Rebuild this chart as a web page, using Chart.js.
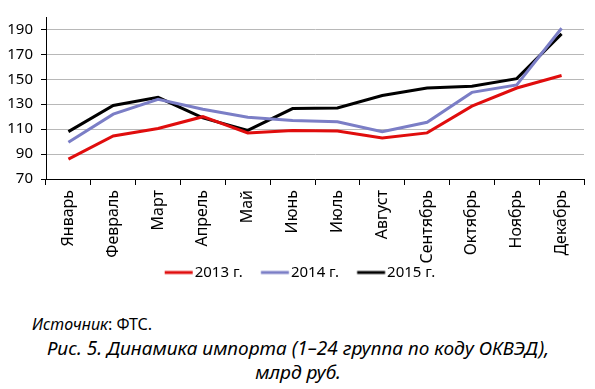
<!DOCTYPE html>
<html>
<head>
<meta charset="utf-8">
<script src="https://cdn.jsdelivr.net/npm/chart.js@4/dist/chart.umd.min.js"></script>
<style>
    body { margin: 0; background: #fff; width: 595px; height: 389px; overflow: hidden; position: relative; font-family: "Noto Sans", sans-serif; }
    #wrap { position: absolute; left: 0; top: 0; width: 595px; height: 290px; }
    .cap { position: absolute; color: #000; white-space: nowrap; }
    #src { left: 32px; top: 313px; font-size: 16px; }
    #src i { font-style: italic; }
    #title1 { left: 0; width: 596px; text-align: center; top: 335px; font-size: 19px; font-style: italic; }
    #title2 { left: 0; width: 596px; text-align: center; top: 359px; font-size: 19px; font-style: italic; }
</style>
</head>
<body>
<div id="wrap"><canvas id="importChart" width="595" height="290"></canvas></div>
<div class="cap" id="src"><i>Источник</i>: ФТС.</div>
<div class="cap" id="title1">Рис. 5. Динамика импорта (1–24 группа по коду ОКВЭД),</div>
<div class="cap" id="title2">млрд руб.</div>
<script>
const months = ["Январь","Февраль","Март","Апрель","Май","Июнь","Июль","Август","Сентябрь","Октябрь","Ноябрь","Декабрь"];
const seriesNames = ["2013 г.", "2014 г.", "2015 г."];
const values2013 = [86, 104.5, 110.5, 120, 107, 109, 108.5, 103, 107, 128.5, 143, 153];
const values2014 = [99.5, 122, 134, 126, 119.5, 117, 116, 108, 115.5, 139.5, 145.5, 191];
const values2015 = [108, 129, 135.5, 119, 109, 126.5, 127, 137, 143, 144.5, 150.5, 186.5];
const yTicks = [70, 90, 110, 130, 150, 170, 190];
const colors = ["#e00d0d", "#7b7ec6", "#000000"];

// legend marker: a wide box with the line pushed to its right end,
// so the gap between items lives in the box and the line sits close to the text
function legendLine(color) {
    const c = document.createElement("canvas");
    c.width = 60;
    c.height = 6;
    const g = c.getContext("2d");
    g.strokeStyle = color;
    g.lineWidth = 3;
    g.beginPath();
    g.moveTo(26.75, 3);
    g.lineTo(54.75, 3);
    g.stroke();
    return c;
}

const ctx = document.getElementById("importChart");

new Chart(ctx, {
    type: "line",
    data: {
        labels: months,
        datasets: [values2013, values2014, values2015].map((vals, i) => ({
            label: seriesNames[i],
            data: vals,
            borderColor: colors[i],
            backgroundColor: colors[i],
            pointStyle: legendLine(colors[i]),
            borderWidth: 3,
            pointRadius: 0,
            tension: 0,
            fill: false
        }))
    },
    options: {
        responsive: false,
        animation: false,
        layout: { padding: { top: 5, right: 11, left: 0, bottom: 0 } },
        scales: {
            x: {
                offset: true,
                grid: { offset: true, drawOnChartArea: false, drawTicks: true, tickLength: 6, tickColor: "#000" },
                border: { color: "#000", width: 1 },
                ticks: { color: "#000", font: { family: "Noto Sans", size: 16 }, minRotation: 90, maxRotation: 90, padding: 5, autoSkip: false },
                afterFit: s => { s.height = 84; }
            },
            y: {
                min: 70,
                max: 200,
                afterBuildTicks: s => { s.ticks = yTicks.map(v => ({ value: v })); },
                grid: { color: "#b8b8b8", lineWidth: 1, tickLength: 5, tickColor: "#000" },
                border: { color: "#000", width: 1 },
                ticks: { color: "#000", font: { family: "Noto Sans", size: 15 }, padding: 8 },
                afterFit: s => { s.width = 46; }
            }
        },
        plugins: {
            legend: {
                position: "bottom",
                labels: {
                    color: "#000",
                    font: { family: "Noto Sans", size: 15 },
                    usePointStyle: true,
                    pointStyleWidth: 38.5,
                    padding: 2
                }
            },
            tooltip: { enabled: false }
        }
    }
});
</script>
</body>
</html>
